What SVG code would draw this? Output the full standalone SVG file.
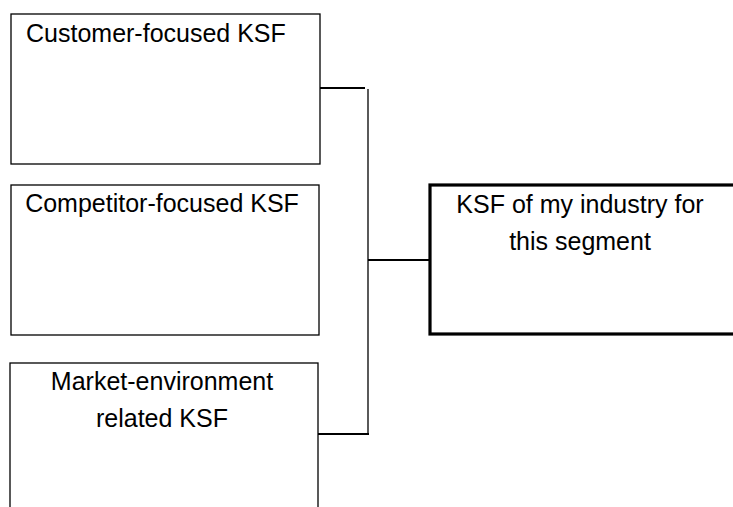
<svg xmlns="http://www.w3.org/2000/svg" width="733" height="507" viewBox="0 0 733 507">
<style>
.box{fill:#fff;stroke:#000;stroke-width:1.3}
.main{fill:#fff;stroke:#000;stroke-width:3.2}
.t{font-family:"Liberation Sans",Arial,sans-serif;font-size:25px;fill:#000}
.c{text-anchor:middle}
.con{fill:none;stroke:#000}
</style>
<rect width="733" height="507" fill="#fff"/>
<g id="connectors">
<line class="con" x1="320" y1="88" x2="365" y2="88" stroke-width="2.2"/>
<line class="con" x1="368" y1="89" x2="368" y2="435" stroke-width="1.3"/>
<line class="con" x1="368" y1="260" x2="429" y2="260" stroke-width="2"/>
<line class="con" x1="318" y1="434" x2="369" y2="434" stroke-width="2.2"/>
</g>
<g id="customer">
<rect class="box" x="11" y="14" width="309" height="150"/>
<text class="t" x="26" y="42">Customer-focused KSF</text>
</g>
<g id="competitor">
<rect class="box" x="11" y="185" width="308" height="150"/>
<text class="t c" x="162" y="212">Competitor-focused KSF</text>
</g>
<g id="market">
<rect class="box" x="10" y="363" width="308" height="160"/>
<text class="t c" x="162" y="390">Market-environment</text>
<text class="t c" x="162" y="427">related KSF</text>
</g>
<g id="industry">
<rect class="main" x="430" y="185" width="310" height="149"/>
<text class="t c" x="580" y="213">KSF of my industry for</text>
<text class="t c" x="580" y="250">this segment</text>
</g>
</svg>
